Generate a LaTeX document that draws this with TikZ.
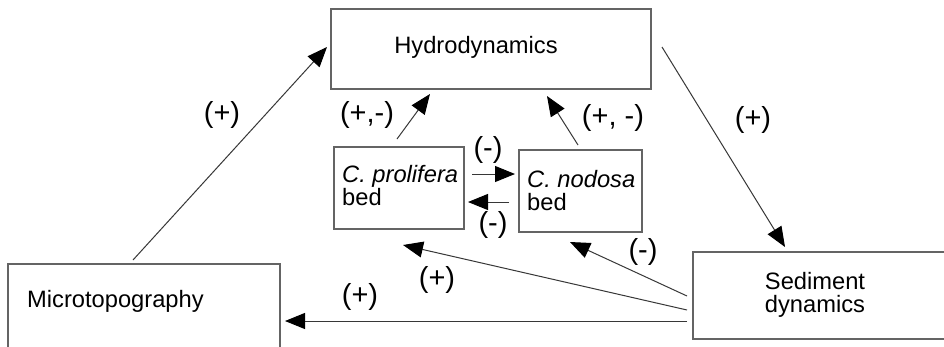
\documentclass[tikz,border=0pt]{standalone}
\usepackage{fontspec}
\setmainfont{Liberation Sans}
\usetikzlibrary{arrows.meta}
\definecolor{boxgray}{RGB}{100,100,100}
\definecolor{linegray}{RGB}{55,55,55}
\tikzset{
  box/.style={draw=boxgray, line width=1.6pt, inner sep=0pt, rectangle},
  txt/.style={inner sep=0pt, font=\fontsize{23.7}{23}\selectfont},
  itxt/.style={inner sep=0pt, font=\fontsize{23.7}{23}\selectfont\itshape},
  sign/.style={inner sep=0pt, font=\fontsize{29}{29}\selectfont},
  arr/.style={draw=linegray, line width=1pt, -{Triangle[length=20pt,width=16pt,color=black]}}
}
\begin{document}
\begin{tikzpicture}[x=1pt,y=-1pt]
\useasboundingbox (0,0) rectangle (944,346);
\fill[white] (0,0) rectangle (944,346);
% boxes
\node[box, minimum width=320pt, minimum height=80pt] (hyd) at (491,49) {};
\node[box, minimum width=130pt, minimum height=82pt] (pro) at (399,188) {};
\node[box, minimum width=123pt, minimum height=82pt] (nod) at (580.5,191) {};
\node[box, minimum width=272pt, minimum height=86pt] (mic) at (144,307) {};
\node[box, minimum width=260pt, minimum height=87pt] (sed) at (823,295.5) {};
% texts
\node[txt, anchor=base] (thyd) at (476,53) {Hydrodynamics};
\node[itxt, anchor=base west] (tpro1) at (342,182) {C. prolifera};
\node[txt, anchor=base west] (tpro2) at (342,205) {bed};
\node[itxt, anchor=base west] (tnod1) at (527,187) {C. nodosa};
\node[txt, anchor=base west] (tnod2) at (527,210) {bed};
\node[txt, anchor=base west] (tmic) at (27,307) {Microtopography};
\node[txt, anchor=base] (tsed1) at (815,289) {Sediment};
\node[txt, anchor=base] (tsed2) at (815,312) {dynamics};
% connector end points
\coordinate (mh1) at (133,260);
\coordinate (mh2) at (327,47);
\coordinate (hs1) at (662,47);
\coordinate (hs2) at (785,247);
\coordinate (ph1) at (397,139);
\coordinate (ph2) at (430,94);
\coordinate (nh1) at (578,145);
\coordinate (nh2) at (547,96);
\coordinate (pn1) at (472,174);
\coordinate (pn2) at (515,174);
\coordinate (np1) at (509,202);
\coordinate (np2) at (468,202);
\coordinate (sn1) at (687,296);
\coordinate (sn2) at (570,242);
\coordinate (sp1) at (687,310);
\coordinate (sp2) at (403,245);
\coordinate (sm1) at (687,321);
\coordinate (sm2) at (285,321);
% connectors
\draw[arr] (mh1) -- (mh2);
\draw[arr] (hs1) -- (hs2);
\draw[arr] (ph1) -- (ph2);
\draw[arr] (nh1) -- (nh2);
\draw[arr] (pn1) -- (pn2);
\draw[arr] (np1) -- (np2);
\draw[arr] (sn1) -- (sn2);
\draw[arr] (sp1) -- (sp2);
\draw[arr] (sm1) -- (sm2);
% labels
\node[sign] (l1) at (222,115) {(+)};
\node[sign] (l2) at (753,120) {(+)};
\node[sign] (l3) at (367,115) {(+,-)};
\node[sign] (l4) at (613,118) {(+, -)};
\node[sign] (l5) at (488,150) {(-)};
\node[sign] (l6) at (493,225) {(-)};
\node[sign] (l7) at (643,252) {(-)};
\node[sign] (l8) at (437,280) {(+)};
\node[sign] (l9) at (360,297) {(+)};
\end{tikzpicture}
\end{document}
